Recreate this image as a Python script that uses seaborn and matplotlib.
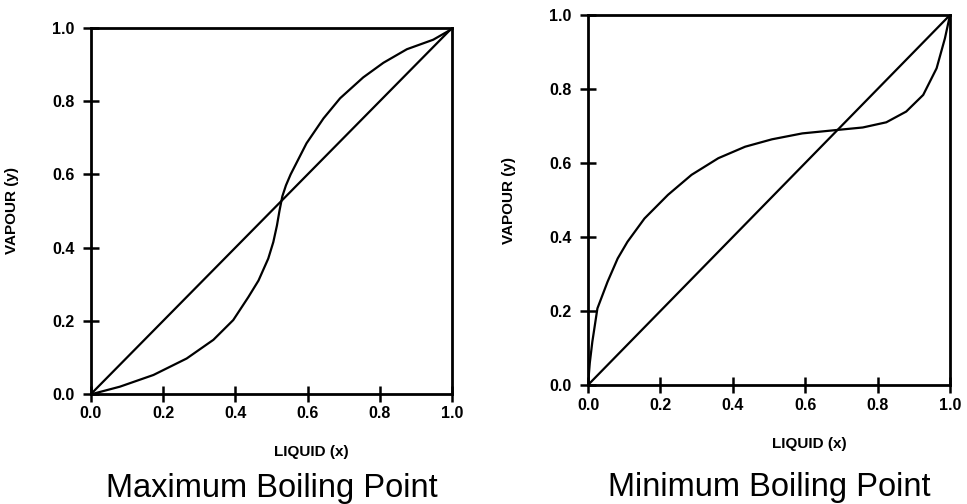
import matplotlib
matplotlib.use("Agg")
import matplotlib.pyplot as plt
import seaborn as sns
import pandas as pd

# ---- data ----
tick_values = [0.0, 0.2, 0.4, 0.6, 0.8, 1.0]
tick_labels = ["0.0", "0.2", "0.4", "0.6", "0.8", "1.0"]

diag_x = [0.0, 1.0]
diag_y = [0.0, 1.0]

# Maximum boiling point azeotrope (negative deviation)
max_x = [0.0, 0.011, 0.08, 0.173, 0.265, 0.339, 0.394, 0.436, 0.464, 0.491,
         0.505, 0.515, 0.522, 0.53, 0.54, 0.553, 0.597, 0.644, 0.69, 0.754, 0.81,
         0.875, 0.948, 0.994, 1.0]
max_y = [0.0, 0.002, 0.02, 0.052, 0.097, 0.148, 0.202, 0.265, 0.31, 0.37,
         0.415, 0.46, 0.50, 0.54, 0.57, 0.60, 0.685, 0.753, 0.808, 0.865, 0.905,
         0.942, 0.968, 0.994, 1.0]

# Minimum boiling point azeotrope (positive deviation)
min_x = [0.0, 0.005, 0.012, 0.026, 0.054, 0.082, 0.109, 0.156, 0.221, 0.286, 0.36,
         0.434, 0.508, 0.592, 0.685, 0.759, 0.824, 0.879, 0.926, 0.963, 0.986, 1.0]
min_y = [0.0, 0.06, 0.117, 0.207, 0.279, 0.342, 0.387, 0.45, 0.514, 0.568, 0.613,
         0.644, 0.664, 0.68, 0.689, 0.696, 0.71, 0.739, 0.784, 0.856, 0.937, 1.0]

titles = ["Maximum Boiling Point", "Minimum Boiling Point"]
xlabel = "LIQUID (x)"
ylabel = "VAPOUR (y)"

sns.set_theme(style="white")
plt.rcParams["font.family"] = ["Liberation Sans", "DejaVu Sans"]

fig = plt.figure(figsize=(9.67, 5.04), dpi=100)
ax1 = fig.add_axes([91 / 967, 1 - 394 / 504, 361 / 967, 366 / 504])
ax2 = fig.add_axes([588 / 967, 1 - 385 / 504, 362 / 967, 370 / 504])

curves = [(max_x, max_y), (min_x, min_y)]
title_y = [-0.257, -0.276]
for ax, (cx, cy), title, ty in zip([ax1, ax2], curves, titles, title_y):
    df_d = pd.DataFrame({"x": diag_x, "y": diag_y})
    df_c = pd.DataFrame({"x": cx, "y": cy})
    sns.lineplot(data=df_d, x="x", y="y", ax=ax, color="black", lw=1.6, sort=False)
    sns.lineplot(data=df_c, x="x", y="y", ax=ax, color="black", lw=1.6, sort=False)
    ax.set_xlim(0, 1)
    ax.set_ylim(0, 1)
    ax.set_xticks(tick_values)
    ax.set_xticklabels(tick_labels)
    ax.set_yticks(tick_values)
    ax.set_yticklabels(tick_labels)
    ax.tick_params(axis="both", which="major", direction="inout", length=12, width=1.8,
                   color="black", labelsize=11.5, labelcolor="black",
                   bottom=True, left=True, top=False, right=False)
    ax.tick_params(axis="x", pad=3)
    ax.tick_params(axis="y", pad=6)
    for lab in ax.get_xticklabels() + ax.get_yticklabels():
        lab.set_fontweight("bold")
    for sp in ax.spines.values():
        sp.set_color("black")
        sp.set_linewidth(2.0)
    ax.set_xlabel(xlabel, fontsize=11, fontweight="bold", color="black")
    ax.set_ylabel(ylabel, fontsize=11, fontweight="bold", color="black")
    ax.xaxis.set_label_coords(0.61, -0.14)
    ax.yaxis.set_label_coords(-0.2, 0.5)
    ax.text(0.5, ty, title, transform=ax.transAxes, ha="center", va="center",
            fontsize=23.5, color="black")
    ax.set_facecolor("white")

fig.savefig("out.png", dpi=100, facecolor="white")
